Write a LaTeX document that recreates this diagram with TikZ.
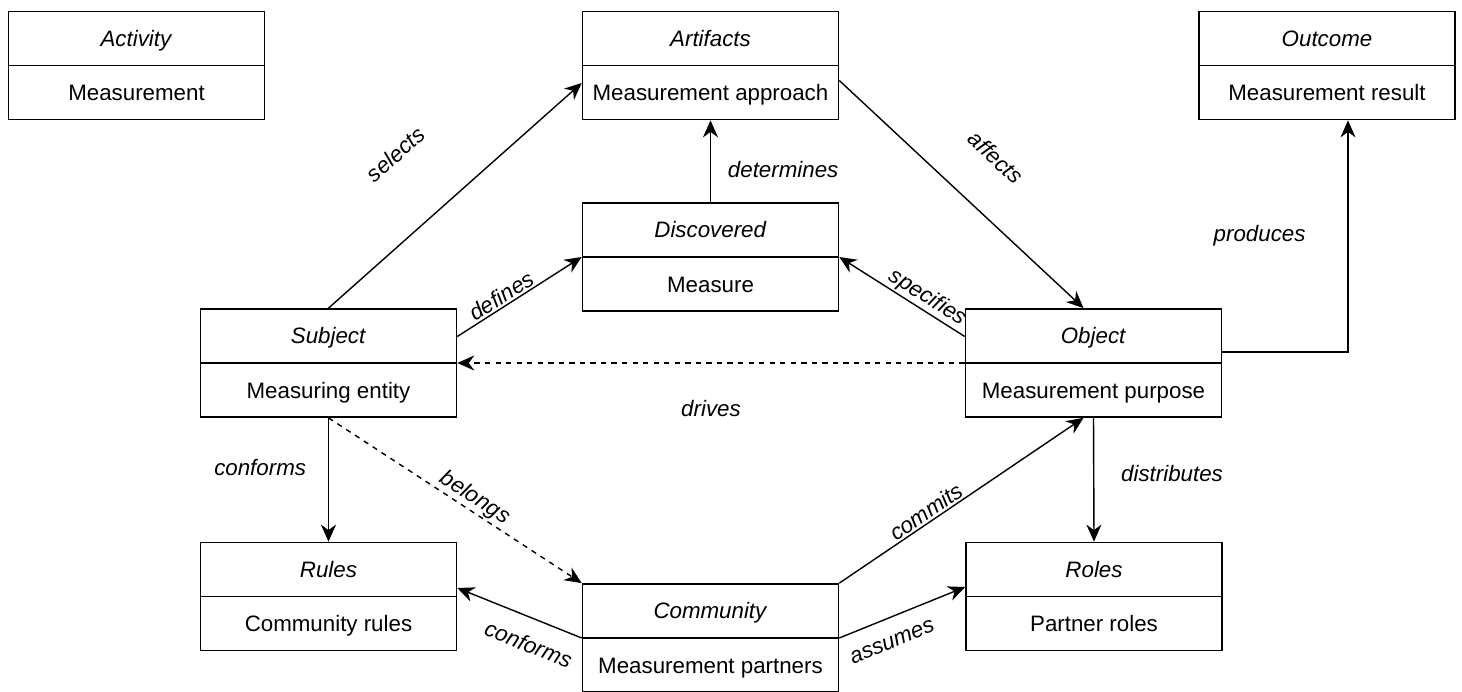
\documentclass[tikz,border=0pt]{standalone}
\usepackage{fontspec}
\setmainfont{Liberation Sans}
\usetikzlibrary{shapes.multipart,arrows.meta}

\tikzset{
  ent/.style={draw, line width=0.9pt, rectangle split, rectangle split parts=2,
    minimum width=5.12cm, inner ysep=0pt, inner xsep=2pt,
    font=\fontsize{12.7}{15}\selectfont},
  lnk/.style={line width=0.8pt, -{Stealth[length=3.4mm,width=3mm,inset=1.1mm]}},
  lbl/.style={font=\fontsize{12.7}{15}\selectfont\itshape, inner sep=1pt},
}
\newcommand{\entry}[2]{\rule[-3.65mm]{0pt}{10.5mm}\textit{#1}\nodepart{two}\rule[-3.65mm]{0pt}{10.5mm}#2}

\begin{document}
\begin{tikzpicture}
    \useasboundingbox (0,0) rectangle (29.24,13.82);
    % entities
    \node[ent] (act) at (2.73,12.51) {\entry{Activity}{Measurement}};
    \node[ent] (art) at (14.21,12.51) {\entry{Artifacts}{Measurement approach}};
    \node[ent] (outc) at (26.54,12.51) {\entry{Outcome}{Measurement result}};
    \node[ent] (disc) at (14.21,8.68) {\entry{Discovered}{Measure}};
    \node[ent] (subj) at (6.57,6.56) {\entry{Subject}{Measuring entity}};
    \node[ent] (obj) at (21.87,6.56) {\entry{Object}{Measurement purpose}};
    \node[ent] (rules) at (6.57,1.89) {\entry{Rules}{Community rules}};
    \node[ent] (comm) at (14.21,1.06) {\entry{Community}{Measurement partners}};
    \node[ent] (roles) at (21.88,1.89) {\entry{Roles}{Partner roles}};
    % relations
    \draw[lnk] (subj.north) -- node[lbl, sloped, above=12mm, pos=.45]{selects} ([yshift=-3.5mm]art.west);
    \draw[lnk] ([yshift=-3mm]art.east) -- node[lbl, sloped, above=8mm, pos=.5]{affects} ([xshift=-2mm]obj.north);
    \draw[lnk] (disc.north) -- node[lbl, right=3mm, pos=.4]{determines} (art.south);
    \draw[lnk] ([yshift=5.3mm]subj.east) -- node[lbl, sloped, above, pos=.4]{defines} (disc.west);
    \draw[lnk] ([yshift=5.3mm]obj.west) -- node[lbl, sloped, above, pos=.35]{specifies} (disc.east);
    \draw[lnk, dashed] (obj.west) -- node[lbl, below=7mm]{drives} (subj.east);
    \draw[lnk] ([yshift=2.2mm]obj.east) -| node[lbl, left=8mm, pos=.75]{produces} ([xshift=4.2mm]outc.south);
    \draw[lnk] (subj.south) -- node[lbl, left=4mm, pos=.4]{conforms} (rules.north);
    \draw[lnk, dashed] (subj.south) -- node[lbl, sloped, above, pos=.55]{belongs} (comm.north west);
    \draw[lnk] (comm.north east) -- node[lbl, sloped, above, pos=.38]{commits} ([xshift=-2mm]obj.south);
    \draw[lnk] (obj.south) -- node[lbl, right=5mm, pos=.45]{distributes} (roles.north);
    \draw[lnk] (comm.west) -- node[lbl, sloped, below=3mm, pos=.35]{conforms} ([yshift=1.7mm]rules.east);
    \draw[lnk] (comm.east) -- node[lbl, sloped, below=3mm, pos=.35]{assumes} ([yshift=1.9mm]roles.west);
\end{tikzpicture}
\end{document}
